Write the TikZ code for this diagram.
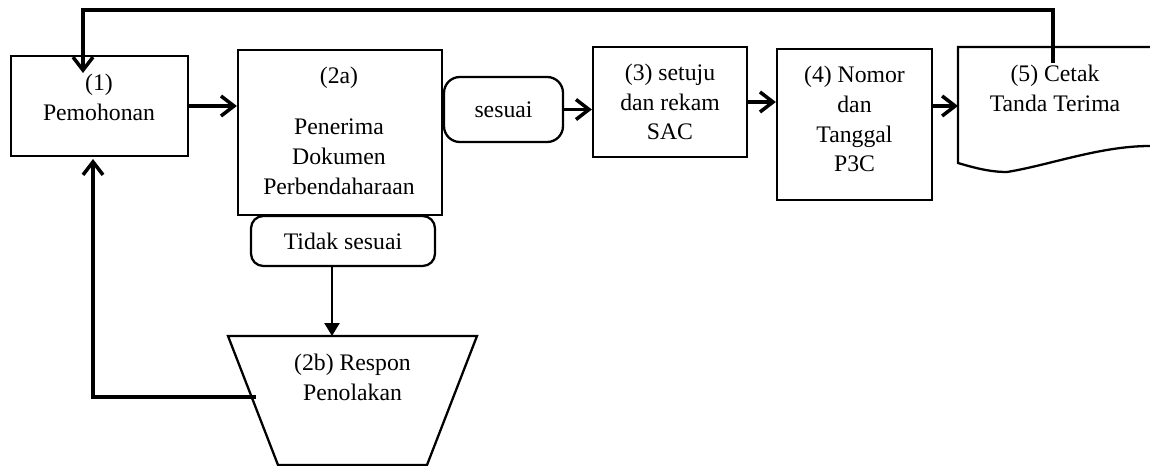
\documentclass[tikz,border=0pt]{standalone}
\usepackage{fontspec}
\setmainfont{Liberation Serif}
\usetikzlibrary{arrows.meta, positioning}
\tikzstyle{block} = [draw, line width=1.3pt, rectangle, inner sep=0pt, align=center]
\tikzstyle{rblock} = [draw, line width=1.3pt, rectangle, rounded corners=7pt, inner sep=0pt, align=center]
\tikzstyle{txt} = [align=center, inner sep=0pt]
\tikzstyle{flow} = [line width=2pt, -{Straight Barb[length=2.6mm, width=4mm]}]
\tikzstyle{tolak} = [line width=1.3pt, -{Triangle[length=2.6mm, width=3mm]}]

\begin{document}
\begin{tikzpicture}[x=0.02cm, y=-0.02cm, font=\fontsize{13.5}{17}\selectfont]
  \useasboundingbox (0,0) rectangle (1150,466);
  \node [block, minimum width=3.54cm, minimum height=2cm] (pemohon) at (99.5,106) {};
  \node [txt] (t1) at (99,97) {(1)\\Pemohonan};
  \node [block, minimum width=4.08cm, minimum height=3.3cm] (terima) at (340,132.5) {};
  \node [txt] (t2a) at (339,131) {(2a)\\[12pt]Penerima\\Dokumen\\Perbendaharaan};
  \node [rblock, rounded corners=9pt, minimum width=2.38cm, minimum height=1.3cm] (sesuai) at (503.5,109.5) {sesuai};
  \node [block, minimum width=3.08cm, minimum height=2.2cm] (setuju) at (670,102) {(3) setuju\\dan rekam\\SAC};
  \node [block, minimum width=3.1cm, minimum height=3.02cm] (nomor) at (854.5,124.5) {};
  \node [txt] (t4) at (854.5,119) {(4) Nomor\\dan\\Tanggal\\P3C};
  \node [rblock, minimum width=3.68cm, minimum height=1cm] (tidak) at (343,241) {Tidak sesuai};
  % dokumen (5)
  \coordinate (dok) at (958,47);
  \draw [line width=1.3pt] (1150,47) -- (dok) -- (958,163)
    .. controls (975,168) and (990,172) .. (1007,172)
    .. controls (1050,165) and (1100,146) .. (1150,146);
  \node [txt] (cetak) at (1055,88) {(5) Cetak\\Tanda Terima};
  % respon penolakan
  \draw [line width=1.3pt] (228,336) -- (477,336) -- (427,465) -- (278,465) -- cycle;
  \node [txt] (respon) at (352.5,377) {(2b) Respon\\Penolakan};
  \coordinate (masuk) at (332,336);
  \coordinate (balik) at (256,397);
  \coordinate (kembali) at (93,159);
  \coordinate (cetakan) at (1053,63);
  \coordinate (ulang) at (83,73);
  \draw [flow] (pemohon.east) -- (terima.west |- pemohon.east);
  \draw [flow] (sesuai.east) -- (setuju.west |- sesuai.east);
  \draw [flow] (setuju.east) -- (nomor.west |- setuju.east);
  \draw [flow] (nomor.east |- pemohon.east) -- (dok |- pemohon.east);
  \draw [tolak] (tidak.south -| masuk) -- (masuk);
  \draw [flow] (balik) -| (kembali);
  \draw [flow] (cetakan) -- (cetakan |- 0,10) -| (ulang);
\end{tikzpicture}
\end{document}
